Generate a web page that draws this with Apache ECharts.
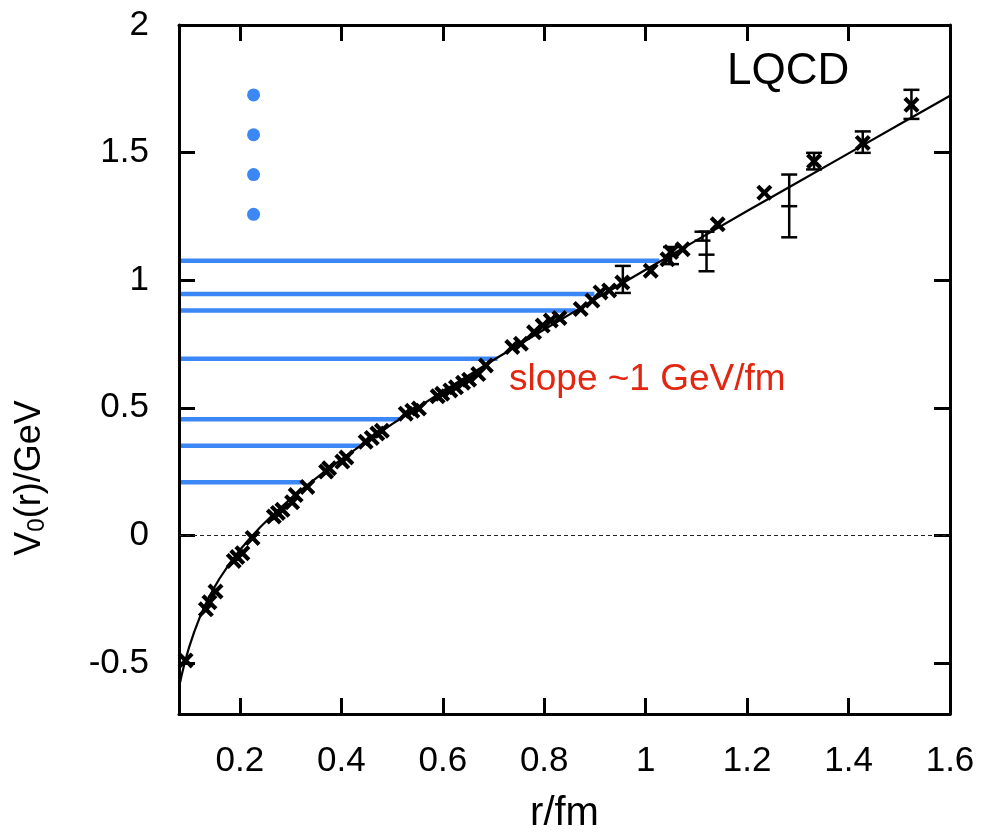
<!DOCTYPE html>
<html><head><meta charset="utf-8">
<script src="https://cdn.jsdelivr.net/npm/echarts@6/dist/echarts.min.js"></script>
<style>html,body{margin:0;padding:0;background:#fff}#c{width:981px;height:839px}</style>
</head><body><div id="c"></div>
<script>
// ---- data ----
const xTicks = [0.2, 0.4, 0.6, 0.8, 1, 1.2, 1.4, 1.6];
const yTicks = [-0.5, 0, 0.5, 1, 1.5, 2];

// potential curve
const fitR = [0.08, 0.085, 0.09, 0.095, 0.10, 0.11, 0.12, 0.13, 0.14, 0.15, 0.16, 0.18, 0.20, 0.22, 0.24, 0.26, 0.28, 0.30, 0.33, 0.36, 0.40, 0.45, 0.50, 0.55, 0.60, 0.70, 0.80, 0.90, 1.00, 1.10, 1.20, 1.30, 1.40, 1.50, 1.60];
const fitV = [-0.595, -0.550, -0.509, -0.472, -0.438, -0.378, -0.326, -0.280, -0.239, -0.203, -0.169, -0.110, -0.057, -0.011, 0.032, 0.071, 0.108, 0.143, 0.192, 0.239, 0.298, 0.368, 0.436, 0.500, 0.564, 0.687, 0.807, 0.925, 1.041, 1.156, 1.271, 1.384, 1.497, 1.610, 1.723];

// lattice data points (crosses)
const ptR = [0.093, 0.133, 0.140, 0.152, 0.188, 0.195, 0.205, 0.225, 0.267, 0.275, 0.284, 0.303, 0.310, 0.333, 0.370, 0.376, 0.402, 0.410, 0.448, 0.460, 0.471, 0.480, 0.527, 0.540, 0.553, 0.590, 0.599, 0.615, 0.626, 0.640, 0.652, 0.670, 0.685, 0.737, 0.754, 0.780, 0.797, 0.813, 0.830, 0.872, 0.895, 0.911, 0.928, 0.954, 1.010, 1.043, 1.050, 1.073, 1.142, 1.234, 1.332, 1.428, 1.524];
const ptV = [-0.490, -0.290, -0.262, -0.220, -0.100, -0.085, -0.070, -0.010, 0.074, 0.088, 0.100, 0.130, 0.158, 0.190, 0.250, 0.263, 0.289, 0.305, 0.367, 0.382, 0.399, 0.410, 0.477, 0.488, 0.497, 0.545, 0.555, 0.568, 0.580, 0.598, 0.610, 0.632, 0.666, 0.738, 0.751, 0.796, 0.822, 0.842, 0.852, 0.887, 0.920, 0.952, 0.960, 0.991, 1.037, 1.082, 1.110, 1.121, 1.219, 1.343, 1.466, 1.538, 1.687];

// error bars: r, low, high, centre mark (null = none)
const errR   = [0.955, 1.050, 1.120, 1.112, 1.283, 1.332, 1.428, 1.524];
const errLo  = [0.950, 1.063, 1.035, 1.155, 1.168, 1.434, 1.499, 1.632];
const errHi  = [1.056, 1.130, 1.190, 1.190, 1.414, 1.499, 1.583, 1.746];
const errMid = [null,  null,  1.100, null,  1.290, null,  null,  null];

// blue horizontal levels: energy and where each line ends
const levelV   = [0.208, 0.351, 0.455, 0.692, 0.881, 0.946, 1.076];
const levelEnd = [0.326, 0.438, 0.514, 0.708, 0.862, 0.899, 1.027];

// blue dots
const dotR = [0.227, 0.227, 0.227, 0.227];
const dotV = [1.726, 1.570, 1.414, 1.258];

const xMin = 0.08, xMax = 1.6, yMin = -0.7, yMax = 2;
const BLUE = '#3a87f5';
const SANS = '"Liberation Sans", Arial, sans-serif';

const chart = echarts.init(document.getElementById('c'), null, {renderer: 'canvas'});
const crossPath = 'path://M0,2.2L2.2,0L6,3.8L9.8,0L12,2.2L8.2,6L12,9.8L9.8,12L6,8.2L2.2,12L0,9.8L3.8,6Z';

const axLine = {show: true, onZero: false, lineStyle: {color: '#000', width: 3}};
const tickStyle = {lineStyle: {color: '#000', width: 3}};

chart.setOption({
  animation: false,
  backgroundColor: '#fff',
  grid: {left: 179, right: 31, top: 25, bottom: 122, containLabel: false},
  xAxis: [{
    type: 'value', min: xMin, max: xMax, position: 'bottom',
    axisLine: axLine,
    axisTick: Object.assign({show: true, inside: true, length: 16, customValues: xTicks}, tickStyle),
    axisLabel: {show: true, customValues: xTicks, margin: 30, color: '#000', fontSize: 35, fontFamily: SANS},
    splitLine: {show: false},
    name: 'r/fm', nameLocation: 'middle', nameGap: 80,
    nameTextStyle: {color: '#000', fontSize: 40, fontFamily: SANS}
  }, {
    type: 'value', min: xMin, max: xMax, position: 'top',
    axisLine: axLine,
    axisTick: Object.assign({show: true, inside: true, length: 16, customValues: xTicks}, tickStyle),
    axisLabel: {show: false}, splitLine: {show: false}
  }],
  yAxis: [{
    type: 'value', min: yMin, max: yMax, position: 'left',
    axisLine: axLine,
    axisTick: Object.assign({show: true, inside: true, length: 16, customValues: yTicks}, tickStyle),
    axisLabel: {show: true, customValues: yTicks, margin: 30, color: '#000', fontSize: 35, fontFamily: SANS},
    splitLine: {show: false}
  }, {
    type: 'value', min: yMin, max: yMax, position: 'right',
    axisLine: axLine,
    axisTick: Object.assign({show: true, inside: true, length: 16, customValues: yTicks}, tickStyle),
    axisLabel: {show: false}, splitLine: {show: false}
  }],
  graphic: [
    {type: 'text', left: 727, top: 50, style: {text: 'LQCD', fill: '#000', font: '44px ' + SANS}},
    {type: 'text', left: 509, top: 361, style: {text: 'slope ~1 GeV/fm', fill: '#e3260f', font: '37px ' + SANS}},
    {type: 'text', x: 30, y: 478, rotation: Math.PI / 2,
      style: {
        text: '{a|V}{b|0}{a|(r)/GeV}', align: 'center', verticalAlign: 'middle',
        rich: {
          a: {fontSize: 36, fill: '#000', fontFamily: SANS},
          b: {fontSize: 24, fill: '#000', fontFamily: SANS, padding: [14, 0, 0, 0]}
        }
      }}
  ],
  series: [
    {
      type: 'custom', name: 'levels', z: 2, silent: true,
      data: levelV.map((v, i) => [levelEnd[i], v]),
      encode: {x: 0, y: 1},
      renderItem: function (params, api) {
        const a = api.coord([xMin, api.value(1)]);
        const b = api.coord([api.value(0), api.value(1)]);
        return {type: 'line', shape: {x1: a[0] + 2, y1: a[1], x2: b[0], y2: b[1]},
          style: {stroke: BLUE, lineWidth: 4.5}};
      }
    },
    {
      type: 'scatter', name: 'dots', z: 2, symbol: 'circle', symbolSize: 13,
      itemStyle: {color: BLUE, opacity: 1},
      data: dotR.map((r, i) => [r, dotV[i]])
    },
    {
      type: 'line', name: 'fit', z: 3, smooth: false, showSymbol: false, symbol: 'none',
      lineStyle: {color: '#000', width: 2.2},
      data: fitR.map((r, i) => [r, fitV[i]]),
      markLine: {
        silent: true, symbol: 'none', label: {show: false},
        lineStyle: {color: '#222', width: 1, type: [4, 3]},
        data: [{yAxis: 0}]
      }
    },
    {
      type: 'custom', name: 'errors', z: 4, silent: true,
      data: errR.map((r, i) => [r, errLo[i], errHi[i]]),
      encode: {x: 0, y: [1, 2]},
      renderItem: function (params, api) {
        const x = api.value(0);
        const lo = api.coord([x, api.value(1)]);
        const hi = api.coord([x, api.value(2)]);
        const w = 8;
        const st = {stroke: '#000', lineWidth: 2.5};
        const ch = [
          {type: 'line', shape: {x1: lo[0], y1: lo[1], x2: hi[0], y2: hi[1]}, style: st},
          {type: 'line', shape: {x1: lo[0] - w, y1: lo[1], x2: lo[0] + w, y2: lo[1]}, style: st},
          {type: 'line', shape: {x1: hi[0] - w, y1: hi[1], x2: hi[0] + w, y2: hi[1]}, style: st}
        ];
        const m = errMid[params.dataIndex];
        if (m !== null) {
          const c = api.coord([x, m]);
          ch.push({type: 'line', shape: {x1: c[0] - w, y1: c[1], x2: c[0] + w, y2: c[1]}, style: st});
        }
        return {type: 'group', children: ch};
      }
    },
    {
      type: 'scatter', name: 'lattice', z: 5, symbol: crossPath, symbolSize: 16,
      itemStyle: {color: '#000', opacity: 1},
      data: ptR.map((r, i) => [r, ptV[i]])
    }
  ]
});
</script>
</body></html>
